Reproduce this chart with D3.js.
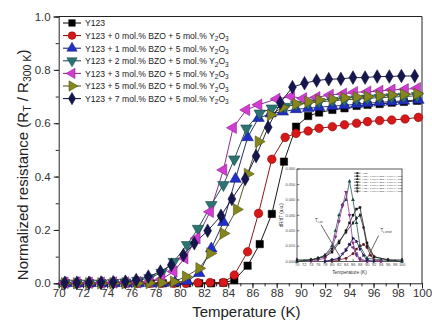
<!DOCTYPE html>
<html>
<head>
<meta charset="utf-8">
<script src="https://cdn.jsdelivr.net/npm/d3@7"></script>
<style>
  body { margin: 0; background: #fff; }
  svg { display: block; font-family: "Liberation Sans", Arial, sans-serif; }
</style>
</head>
<body>
<div id="chart"></div>
<script>
// legend labels (second part is the subscript tail "Y2O3")
const seriesNames = ["Y123", "Y123 + 0 mol.% BZO + 5 mol.% Y", "Y123 + 1 mol.% BZO + 5 mol.% Y",
  "Y123 + 2 mol.% BZO + 5 mol.% Y", "Y123 + 3 mol.% BZO + 5 mol.% Y",
  "Y123 + 5 mol.% BZO + 5 mol.% Y", "Y123 + 7 mol.% BZO + 5 mol.% Y"];

// temperatures (K) and normalized resistance for each sample
const tempY123 = [70.6,71.6,72.6,73.6,74.6,75.6,76.6,77.6,78.6,79.6,80.6,81.6,82.6,83.6,84.5,85.6,86.6,87.6,88.6,89.6,90.6,91.5,92.6,93.6,94.6,95.5,96.5,97.5,98.5,99.6];
const resY123  = [0,0,0,0,0,0,0,0,0,0,0,0,0,0.002,0.012,0.066,0.147,0.26,0.456,0.587,0.627,0.64,0.65,0.656,0.665,0.669,0.672,0.677,0.68,0.684];

const tempBZO0 = [70.5,71.5,72.5,73.5,74.5,75.5,76.5,77.5,78.5,79.5,80.5,81.5,82.5,83.6,84.5,85.6,86.5,87.6,88.7,89.6,90.6,91.5,92.6,93.6,94.6,95.5,96.5,97.5,98.6,99.7];
const resBZO0  = [0,0,0,0,0,0,0,0,0,0,0,0.002,0.003,0.003,0.031,0.118,0.262,0.465,0.547,0.562,0.571,0.581,0.587,0.594,0.6,0.606,0.61,0.612,0.616,0.622];

const tempBZO1 = [70.6,71.6,72.6,73.6,74.6,75.6,76.6,77.6,78.6,79.6,80.6,81.6,82.6,83.6,84.6,85.6,86.5,87.5,88.5,89.6,90.6,91.5,92.6,93.6,94.6,95.5,96.5,97.5,98.5,99.7];
const resBZO1  = [0,0,0,0,0,0,0,0,0.001,0.003,0.008,0.038,0.13,0.229,0.391,0.547,0.619,0.636,0.643,0.652,0.656,0.66,0.664,0.667,0.671,0.675,0.678,0.681,0.684,0.687];

const tempBZO2 = [70.5,71.5,72.5,73.5,74.5,75.5,76.5,77.5,78.5,79.5,80.6,81.5,82.6,83.6,84.5,85.5,86.6,87.6,88.7,89.6,90.6,91.5,92.6,93.6,94.6,95.5,96.5,97.5,98.5,99.6];
const resBZO2  = [0,0,0,0,0.002,0.004,0.01,0.02,0.04,0.081,0.144,0.205,0.294,0.369,0.465,0.581,0.637,0.656,0.662,0.67,0.675,0.68,0.684,0.688,0.69,0.693,0.696,0.698,0.7,0.703];

const tempBZO3 = [70.5,71.5,72.5,73.5,74.5,75.5,76.5,77.5,78.5,79.5,80.4,81.4,82.5,83.6,84.4,85.5,86.5,88.0,89.2,90.2,91.3,92.4,93.5,94.4,95.5,96.5,97.5,98.6,99.6];
const resBZO3  = [0.002,0.003,0.002,0.002,0.003,0.003,0.004,0.006,0.015,0.044,0.094,0.169,0.268,0.425,0.583,0.65,0.669,0.691,0.7,0.693,0.697,0.706,0.71,0.716,0.718,0.721,0.725,0.727,0.731];

const tempBZO5 = [70.5,71.5,72.5,73.5,74.5,75.5,76.5,77.5,78.5,79.5,80.5,81.6,82.5,83.6,84.7,85.6,86.5,87.5,88.5,89.6,90.6,91.5,92.6,93.6,94.6,95.5,96.5,97.5,98.5,99.6];
const resBZO5  = [0,0,0,0,0,0,0,0.001,0.002,0.006,0.025,0.056,0.112,0.187,0.277,0.41,0.531,0.631,0.66,0.672,0.68,0.687,0.69,0.695,0.698,0.7,0.703,0.706,0.708,0.71];

const tempBZO7 = [70.5,71.5,72.5,73.5,74.5,75.5,76.4,77.4,78.4,79.3,80.3,81.2,82.3,83.4,84.3,85.4,86.3,87.3,88.3,89.3,90.3,91.3,92.3,93.3,94.3,95.3,96.3,97.3,98.3,99.4];
const resBZO7  = [0.002,0.002,0.002,0.003,0.004,0.006,0.012,0.025,0.044,0.069,0.106,0.15,0.197,0.253,0.316,0.391,0.477,0.585,0.677,0.735,0.75,0.76,0.765,0.766,0.771,0.771,0.775,0.775,0.777,0.777];

const xTicks = [70,72,74,76,78,80,82,84,86,88,90,92,94,96,98,100];
const yTicks = [0, 0.2, 0.4, 0.6, 0.8, 1.0];

// inset: dR/dT curves
const insetNames = seriesNames;
const insetT0 = [70,74,76,78,80,82,84,85,86,87,88,90,92,96,100];
const insetV0 = [0,0.001,0.002,0.003,0.006,0.012,0.02,0.025,0.03,0.034,0.035,0.012,0.003,0.001,0];
const insetT1 = [80,82,84,86,87,88,89,90,91,92,94];
const insetV1 = [0,0.001,0.002,0.005,0.008,0.01,0.011,0.009,0.004,0.001,0];
const insetT2 = [70,74,76,78,80,81,82,83,84,85,86,87,88,90,94,100];
const insetV2 = [0,0.001,0.002,0.004,0.01,0.02,0.03,0.037,0.04,0.052,0.04,0.025,0.01,0.002,0.001,0];
const insetT3 = [74,76,78,80,81,82,83,84,85,86,87,88,90,94];
const insetV3 = [0,0.001,0.002,0.008,0.016,0.026,0.036,0.045,0.03,0.012,0.004,0.001,0,0];
const insetT4 = [78,80,82,83,84,85,86,87,88,90];
const insetV4 = [0,0.001,0.002,0.005,0.008,0.011,0.009,0.005,0.002,0];
const insetT5 = [78,80,82,84,85,86,87,88,89,90,92];
const insetV5 = [0,0.001,0.002,0.007,0.011,0.015,0.013,0.008,0.004,0.001,0];
const insetT6 = [70,74,76,78,80,82,84,86,87,88,89,90,92,96,100];
const insetV6 = [0.001,0.001,0.002,0.004,0.008,0.013,0.019,0.025,0.028,0.03,0.022,0.01,0.003,0.001,0.001];

const series = [
  { name: seriesNames[0], t: tempY123, v: resY123, color: "#000000", edge: "#000000", sym: d3.symbolSquare, rot: 0, size: 54 },
  { name: seriesNames[1], t: tempBZO0, v: resBZO0, color: "#d81818", edge: "#7a0000", sym: d3.symbolCircle, rot: 0, size: 58 },
  { name: seriesNames[2], t: tempBZO1, v: resBZO1, color: "#1f2fc8", edge: "#101860", sym: d3.symbolTriangle, rot: 0, size: 58 },
  { name: seriesNames[3], t: tempBZO2, v: resBZO2, color: "#2a7474", edge: "#143c3c", sym: d3.symbolTriangle, rot: 180, size: 58 },
  { name: seriesNames[4], t: tempBZO3, v: resBZO3, color: "#d23cd2", edge: "#7a1a7a", sym: d3.symbolTriangle, rot: -90, size: 58 },
  { name: seriesNames[5], t: tempBZO5, v: resBZO5, color: "#86861e", edge: "#45450c", sym: d3.symbolTriangle, rot: 90, size: 58 },
  { name: seriesNames[6], t: tempBZO7, v: resBZO7, color: "#16164f", edge: "#0a0a30", sym: d3.symbolDiamond, rot: 0, size: 54 }
];

const W = 432, H = 321;
const margin = { top: 16.5, right: 10, bottom: 37.7, left: 58.7 };
const width = W - margin.left - margin.right,
      height = H - margin.top - margin.bottom;

const svg = d3.select("#chart").append("svg")
  .attr("width", W).attr("height", H);
svg.append("rect").attr("width", W).attr("height", H).attr("fill", "#fff");

const g = svg.append("g").attr("transform", `translate(${margin.left},${margin.top})`);

const x = d3.scaleLinear().domain([70, 100]).range([0, width]);
const y = d3.scaleLinear().domain([0, 1.0]).range([height, 0]);

// minor ticks
g.append("g").attr("transform", `translate(0,${height})`)
  .call(d3.axisBottom(x).ticks(30).tickSize(3).tickFormat(""))
  .call(a => a.select(".domain").remove());
g.append("g")
  .call(d3.axisLeft(y).ticks(10).tickSize(3).tickFormat(""))
  .call(a => a.select(".domain").remove());

// major axes
const xAxis = g.append("g").attr("transform", `translate(0,${height})`)
  .call(d3.axisBottom(x).tickValues(xTicks).tickSize(5).tickPadding(1).tickFormat(d3.format("d")));
const yAxis = g.append("g")
  .call(d3.axisLeft(y).tickValues(yTicks).tickSize(5).tickPadding(3).tickFormat(d3.format(".1f")));
[xAxis, yAxis].forEach(a => {
  a.selectAll("text").attr("font-size", "11.5px").attr("fill", "#333").attr("font-family", "Liberation Sans, Arial");
  a.selectAll("line, path").attr("stroke", "#222").attr("stroke-width", 1);
});
g.selectAll(".tick line").attr("stroke", "#222");

// frame top/right
g.append("line").attr("x1", 0).attr("x2", width).attr("y1", 0).attr("y2", 0).attr("stroke", "#222");
g.append("line").attr("x1", width).attr("x2", width).attr("y1", 0).attr("y2", height).attr("stroke", "#222");

// series
const line = d3.line().x(d => x(d[0])).y(d => y(d[1]));
series.forEach(s => {
  const pts = s.t.map((t, i) => [t, s.v[i]]);
  g.append("path").datum(pts)
    .attr("fill", "none")
    .attr("stroke", s.edge)
    .attr("stroke-width", 0.9)
    .attr("d", line);
});
series.forEach(s => {
  const pts = s.t.map((t, i) => [t, s.v[i]]);
  g.append("g").selectAll("path")
    .data(pts).join("path")
    .attr("d", d3.symbol().type(s.sym).size(s.size))
    .attr("transform", d => `translate(${x(d[0])},${y(d[1])}) rotate(${s.rot})`)
    .attr("fill", s.color)
    .attr("stroke", s.edge)
    .attr("stroke-width", 0.5);
});

// legend
const legend = svg.append("g").attr("transform", "translate(63,23)");
series.forEach((s, i) => {
  const row = legend.append("g").attr("transform", `translate(0,${i * 12.6})`);
  row.append("line").attr("x1", 0).attr("x2", 18).attr("stroke", s.edge).attr("stroke-width", 1);
  row.append("path")
    .attr("d", d3.symbol().type(s.sym).size(s.size * 0.8))
    .attr("transform", `translate(9,0) rotate(${s.rot})`)
    .attr("fill", s.color).attr("stroke", s.edge).attr("stroke-width", 0.5);
  const txt = row.append("text").attr("x", 22).attr("y", 3.3)
    .attr("font-size", "8.6px").attr("fill", "#222");
  txt.append("tspan").text(s.name);
  if (i > 0) {
    txt.append("tspan").attr("dy", 2.5).attr("font-size", "6.5px").text("2");
    txt.append("tspan").attr("dy", -2.5).text("O");
    txt.append("tspan").attr("dy", 2.5).attr("font-size", "6.5px").text("3");
  }
});

// axis titles
svg.append("text")
  .attr("x", margin.left + width / 2 + 6).attr("y", 317)
  .attr("text-anchor", "middle").attr("font-size", "15px").attr("fill", "#222")
  .text("Temperature (K)");
const yl = svg.append("text")
  .attr("transform", `translate(28,${margin.top + height / 2 + 15}) rotate(-90)`)
  .attr("text-anchor", "middle").attr("font-size", "15px").attr("fill", "#222");
yl.append("tspan").text("Normalized resistance (R");
yl.append("tspan").attr("dy", 3).attr("font-size", "10.5px").text("T");
yl.append("tspan").attr("dy", -3).text(" / R");
yl.append("tspan").attr("dy", 3).attr("font-size", "10.5px").text("300 K");
yl.append("tspan").attr("dy", -3).text(")");

// ---- inset (drawn large, then scaled down)
const k = 0.3;
const iw = 350, ih = 308;
const inset = svg.append("g").attr("transform", `translate(297,169) scale(${k})`);
const ix = d3.scaleLinear().domain([70, 100]).range([0, iw]);
const iy = d3.scaleLinear().domain([0, 0.06]).range([ih, 0]);
inset.append("rect").attr("width", iw).attr("height", ih).attr("fill", "#fff")
  .attr("stroke", "#222").attr("stroke-width", 2.5);
const ixa = inset.append("g").attr("transform", `translate(0,${ih})`)
  .call(d3.axisBottom(ix).tickValues(xTicks).tickSize(-8).tickPadding(6).tickFormat(d3.format("d")));
const iya = inset.append("g")
  .call(d3.axisLeft(iy).ticks(6).tickSize(-8).tickPadding(6).tickFormat(d3.format(".3f")));
[ixa, iya].forEach(a => {
  a.selectAll("text").attr("font-size", "13px").attr("fill", "#444");
  a.selectAll("line").attr("stroke", "#222").attr("stroke-width", 2);
  a.select(".domain").remove();
});
inset.append("text").attr("x", iw / 2).attr("y", ih + 42).attr("text-anchor", "middle")
  .attr("font-size", "16px").attr("fill", "#333").text("Temperature (K)");
inset.append("text").attr("transform", `translate(-48,${ih / 2}) rotate(-90)`)
  .attr("text-anchor", "middle").attr("font-size", "15px").attr("fill", "#333").text("dR/dT (a.u.)");

const insetData = [
  [insetT0, insetV0, "#111"], [insetT1, insetV1, "#6a1a20"], [insetT2, insetV2, "#1c4a4a"],
  [insetT3, insetV3, "#8a2a8a"], [insetT4, insetV4, "#6a3a7a"], [insetT5, insetV5, "#1a1a55"],
  [insetT6, insetV6, "#222"]
];
const iline = d3.line().x(d => ix(d[0])).y(d => iy(d[1]));
insetData.forEach((s, j) => {
  const pts = s[0].map((t, i) => [t, s[1][i]]);
  inset.append("path").datum(pts).attr("fill", "none")
    .attr("stroke", s[2]).attr("stroke-width", 2.5).attr("d", iline);
  inset.append("g").selectAll("path").data(pts).join("path")
    .attr("d", d3.symbol().type(series[j].sym).size(70))
    .attr("transform", d => `translate(${ix(d[0])},${iy(d[1])}) rotate(${series[j].rot})`)
    .attr("fill", s[2]);
});
// inset legend
const il = inset.append("g").attr("transform", "translate(190,14)");
insetNames.forEach((n, i) => {
  const r = il.append("g").attr("transform", `translate(0,${i * 10})`);
  r.append("line").attr("x1", 0).attr("x2", 22).attr("stroke", "#222").attr("stroke-width", 2);
  r.append("path").attr("d", d3.symbol().type(series[i].sym).size(45))
    .attr("transform", `translate(11,0) rotate(${series[i].rot})`).attr("fill", "#222");
  r.append("text").attr("x", 26).attr("y", 3).attr("font-size", "8px").attr("fill", "#444")
    .text(i > 0 ? n + "2O3" : n);
});
// Tc annotations
inset.append("text").attr("x", 60).attr("y", 175).attr("font-size", "15px").attr("fill", "#333").text("T");
inset.append("text").attr("x", 69).attr("y", 179).attr("font-size", "9px").attr("fill", "#333").text("c,on");
inset.append("line").attr("x1", 80).attr("y1", 186).attr("x2", 145).attr("y2", 295)
  .attr("stroke", "#333").attr("stroke-width", 2.5);
inset.append("text").attr("x", 278).attr("y", 210).attr("font-size", "15px").attr("fill", "#333").text("T");
inset.append("text").attr("x", 287).attr("y", 214).attr("font-size", "9px").attr("fill", "#333").text("c,onset");
inset.append("line").attr("x1", 272).attr("y1", 222).attr("x2", 234).attr("y2", 298)
  .attr("stroke", "#333").attr("stroke-width", 2.5);
</script>
</body>
</html>
